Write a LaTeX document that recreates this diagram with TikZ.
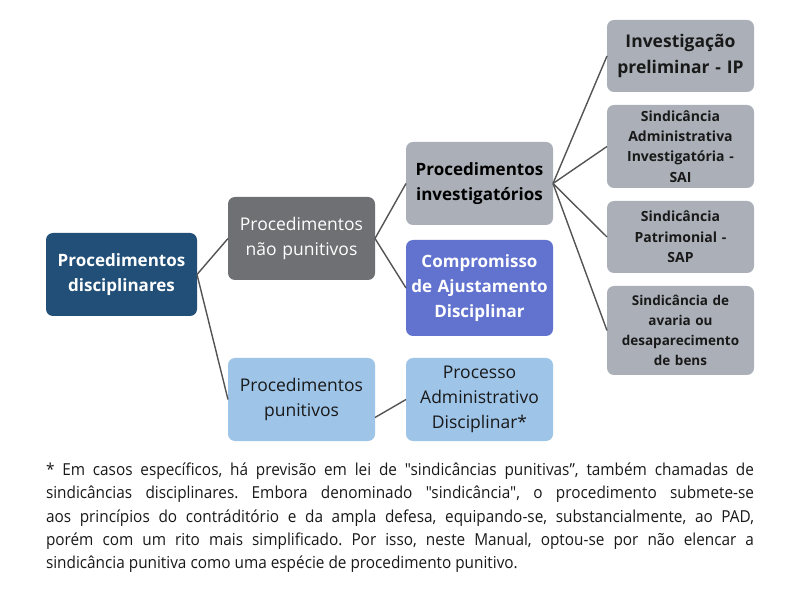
\documentclass[tikz,border=0pt]{standalone}
\usepackage{fontspec}
\setmainfont{Open Sans}
\newfontfamily\notefont{Open Sans}[FakeStretch=0.93]
\usepackage{tikz}

\begin{document}
\frenchspacing
\begin{tikzpicture}[x=1pt,y=1pt]
\definecolor[named]{fillColor}{rgb}{1.00,1.00,1.00}
\definecolor[named]{lineColor}{rgb}{0.33,0.33,0.33}
\definecolor[named]{darkBlue}{rgb}{0.13,0.31,0.47}
\definecolor[named]{darkGray}{rgb}{0.43,0.44,0.45}
\definecolor[named]{lightGray}{rgb}{0.67,0.69,0.72}
\definecolor[named]{lightBlue}{rgb}{0.62,0.77,0.91}
\definecolor[named]{violet}{rgb}{0.38,0.45,0.81}
\definecolor[named]{textColor}{rgb}{0.10,0.10,0.10}
\tikzset{
  box/.style={rounded corners=7pt,inner sep=0pt,outer sep=0pt,align=center,
    minimum width=147,text width=145},
  big/.style={font=\fontsize{17.5}{25}\selectfont},
  bigbold/.style={font=\bfseries\fontsize{17}{25}\selectfont},
  small/.style={font=\bfseries\fontsize{14}{20.3}\selectfont},
  link/.style={draw=lineColor,line width=1.4pt}
}
\path[use as bounding box,fill=fillColor] (0,0) rectangle (800,600);

% boxes
\node[box,bigbold,fill=darkBlue,text=white,minimum width=151,minimum height=83] (disc) at (121.5,325.5) {Procedimentos\\disciplinares};
\node[box,big,fill=darkGray,text=white,minimum height=83] (naop) at (301.5,361.5) {Procedimentos\\não punitivos};
\node[box,big,fill=lightBlue,text=textColor,minimum height=83] (pun) at (301.5,200.5) {Procedimentos\\punitivos};
\node[box,bigbold,fill=lightGray,text=black,minimum height=83] (inv) at (479.5,416.5) {Procedimentos\\investigatórios};
\node[box,bigbold,fill=violet,text=white,minimum height=96] (cad) at (479.5,312.0) {Compromisso\\de Ajustamento\\Disciplinar};
\node[box,big,fill=lightBlue,text=textColor,minimum height=83] (pad) at (479.5,200.5) {Processo\\Administrativo\\Disciplinar*};

\node[box,fill=lightGray,text=textColor,minimum height=72,font=\bfseries\fontsize{17.5}{26}\selectfont] (ip) at (680.5,544.0) {Investigação\\preliminar - IP};
\node[box,small,fill=lightGray,text=textColor,minimum height=83] (sai) at (680.5,453.5) {Sindicância\\Administrativa\\Investigatória -\\SAI};
\node[box,small,fill=lightGray,text=textColor,minimum height=72] (sap) at (680.5,363.0) {Sindicância\\Patrimonial -\\SAP};
\node[box,fill=lightGray,text=textColor,minimum height=89,font=\bfseries\fontsize{13.5}{20}\selectfont] (sab) at (680.5,269.5) {Sindicância de\\avaria ou\\desaparecimento\\de bens};

% connectors
\path[link] (disc.east) -- (naop.west);
\path[link] (disc.east) -- (pun.west);
\path[link] (naop.east) -- (inv.west);
\path[link] (naop.east) -- (cad.west);
\path[link] ([yshift=-18]pun.east) -- (pad.west);
\path[link] (inv.east) -- (ip.west);
\path[link] (inv.east) -- (sai.west);
\path[link] (inv.east) -- (sap.west);
\path[link] (inv.east) -- (sab.west);

% footnote
\node[anchor=north west,inner sep=0pt,outer sep=0pt,text width=708,align=justify,text=textColor,
  font=\notefont\fontsize{16.5}{23.2}\selectfont] (note) at (46,137) {* Em casos específicos, há previsão em lei de "sindicâncias punitivas”, também chamadas de\linebreak
sindicâncias disciplinares. Embora denominado "sindicância", o procedimento submete-se\linebreak
aos princípios do contráditório e da ampla defesa, equipando-se, substancialmente, ao PAD,\linebreak
porém com um rito mais simplificado. Por isso, neste Manual, optou-se por não elencar a\linebreak
sindicância punitiva como uma espécie de procedimento punitivo.};
\end{tikzpicture}
\end{document}
